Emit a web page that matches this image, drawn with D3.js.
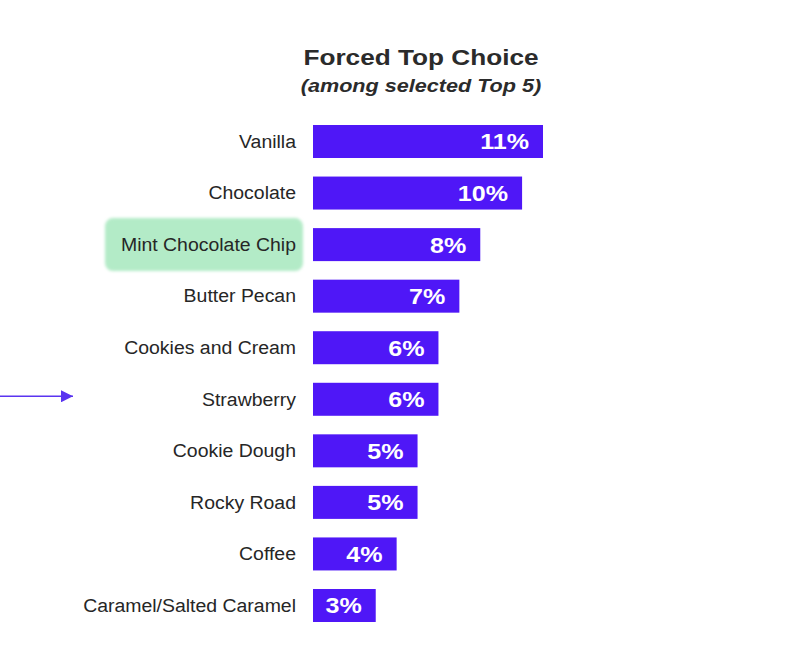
<!DOCTYPE html>
<html>
<head>
<meta charset="utf-8">
<script src="https://cdn.jsdelivr.net/npm/d3@7"></script>
<style>
  body { margin: 0; background: #fff; }
  svg { display: block; }
</style>
</head>
<body>
<svg id="chart" width="788" height="667"></svg>
<script>
// data
const flavors = ["Vanilla", "Chocolate", "Mint Chocolate Chip", "Butter Pecan", "Cookies and Cream",
  "Strawberry", "Cookie Dough", "Rocky Road", "Coffee", "Caramel/Salted Caramel"];
const shares = [11, 10, 8, 7, 6, 6, 5, 5, 4, 3];
const highlighted = ["Mint Chocolate Chip"];
const pointed = ["Strawberry"];

const rows = flavors.map((f, i) => ({ flavor: f, value: shares[i] }));

const svg = d3.select("#chart");

let x = d3.scaleLinear().domain([0, 11]).range([313, 543]);
let y = d3.scaleBand().domain(flavors).range([125, 622]).paddingInner(0.36).paddingOuter(0);

// the source picture is a bit wide, so text gets stretched sideways
function widen(sel, k) {
  sel.each(function () {
    let w = this.getComputedTextLength();
    d3.select(this).attr("textLength", w * k).attr("lengthAdjust", "spacingAndGlyphs");
  });
}

// title
svg.append("text")
  .attr("x", 421).attr("y", 65)
  .attr("text-anchor", "middle")
  .style("font", "bold 22px 'Liberation Sans', Arial, sans-serif")
  .style("fill", "#2b2b2b")
  .text("Forced Top Choice")
  .call(widen, 1.19);

svg.append("text")
  .attr("x", 421).attr("y", 92)
  .attr("text-anchor", "middle")
  .style("font", "italic bold 18px 'Liberation Sans', Arial, sans-serif")
  .style("fill", "#2b2b2b")
  .text("(among selected Top 5)")
  .call(widen, 1.2);

// green marker highlight behind label
const defs = svg.append("defs");
const blur = defs.append("filter").attr("id", "soft");
blur.append("feGaussianBlur").attr("stdDeviation", 1.5);

svg.selectAll("rect.hl")
  .data(highlighted)
  .join("rect")
  .attr("class", "hl")
  .attr("x", 105)
  .attr("y", d => y(d) - 10)
  .attr("width", 198)
  .attr("height", y.bandwidth() + 20)
  .attr("rx", 8)
  .attr("filter", "url(#soft)")
  .style("fill", "#b3ebc7");

// bars
svg.selectAll("rect.bar")
  .data(rows)
  .join("rect")
  .attr("class", "bar")
  .attr("x", x(0))
  .attr("y", d => y(d.flavor))
  .attr("width", d => x(d.value) - x(0))
  .attr("height", y.bandwidth())
  .style("fill", "#4f17f7");

// category labels
svg.selectAll("text.cat")
  .data(rows)
  .join("text")
  .attr("class", "cat")
  .attr("x", 296)
  .attr("y", d => y(d.flavor) + y.bandwidth() / 2)
  .attr("dy", "0.35em")
  .attr("text-anchor", "end")
  .style("font", "18px 'Liberation Sans', Arial, sans-serif")
  .style("fill", "#262626")
  .text(d => d.flavor)
  .call(widen, 1.08);

// value labels
svg.selectAll("text.val")
  .data(rows)
  .join("text")
  .attr("class", "val")
  .attr("x", d => x(d.value) - 14)
  .attr("y", d => y(d.flavor) + y.bandwidth() / 2)
  .attr("dy", "0.36em")
  .attr("text-anchor", "end")
  .style("font", "bold 22px 'Liberation Sans', Arial, sans-serif")
  .style("fill", "#fff")
  .text(d => d.value + "%")
  .call(widen, 1.14);

// arrow pointing at a row
const marker = defs.append("marker")
  .attr("id", "head")
  .attr("viewBox", "0 0 10 10")
  .attr("refX", 10).attr("refY", 5)
  .attr("markerWidth", 14).attr("markerHeight", 12)
  .attr("markerUnits", "userSpaceOnUse")
  .attr("orient", "auto");
marker.append("path").attr("d", "M0,0L10,5L0,10Z").style("fill", "#5a34f0");

svg.selectAll("line.arrow")
  .data(pointed)
  .join("line")
  .attr("class", "arrow")
  .attr("x1", 0)
  .attr("x2", 73)
  .attr("y1", d => y(d) + y.bandwidth() / 2 - 3)
  .attr("y2", d => y(d) + y.bandwidth() / 2 - 3)
  .attr("marker-end", "url(#head)")
  .style("stroke", "#5a34f0")
  .style("stroke-width", 1.5);
</script>
</body>
</html>
